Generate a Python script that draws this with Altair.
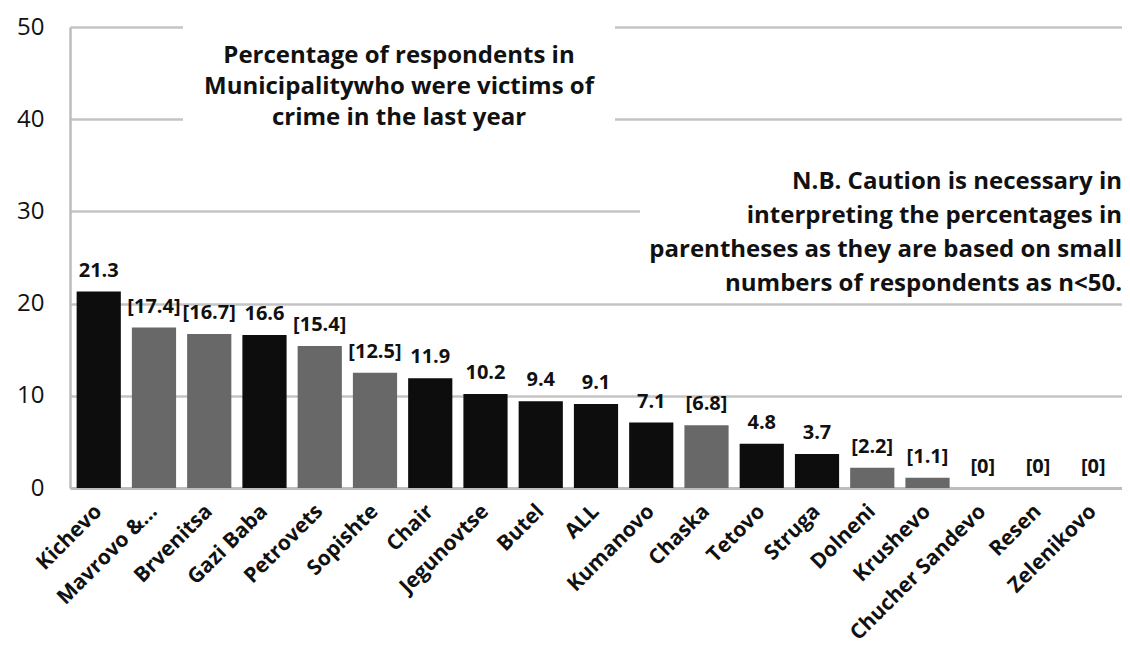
import altair as alt
import pandas as pd

municipalities = ["Kichevo", "Mavrovo &...", "Brvenitsa", "Gazi Baba", "Petrovets", "Sopishte",
                  "Chair", "Jegunovtse", "Butel", "ALL", "Kumanovo", "Chaska", "Tetovo", "Struga",
                  "Dolneni", "Krushevo", "Chucher Sandevo", "Resen", "Zelenikovo"]
values = [21.3, 17.4, 16.7, 16.6, 15.4, 12.5, 11.9, 10.2, 9.4, 9.1, 7.1, 6.8, 4.8, 3.7, 2.2, 1.1, 0, 0, 0]
small_sample = [False, True, True, False, True, True, False, False, False, False, False, True,
                False, False, True, True, True, True, True]
value_labels = ["21.3", "[17.4]", "[16.7]", "16.6", "[15.4]", "[12.5]", "11.9", "10.2", "9.4",
                "9.1", "7.1", "[6.8]", "4.8", "3.7", "[2.2]", "[1.1]", "[0]", "[0]", "[0]"]
y_ticks = [0, 10, 20, 30, 40, 50]
title_lines = ["Percentage of respondents in", "Municipalitywho were victims of", "crime in the last year"]
note_lines = ["N.B. Caution is necessary in", "interpreting the percentages in",
              "parentheses as they are based on small", "numbers of respondents as n<50."]

df = pd.DataFrame({
    "municipality": municipalities,
    "value": values,
    "group": ["small" if s else "normal" for s in small_sample],
    "label": value_labels,
})

FONT = "Open Sans"

x_enc = alt.X("municipality:N", sort=municipalities,
              scale=alt.Scale(paddingInner=0.2, paddingOuter=0.12),
              axis=alt.Axis(title=None, labelAngle=-45, labelAlign="right", labelBaseline="middle",
                            labelFont=FONT, labelFontWeight="bold", labelFontSize=21,
                            labelColor="#111111", labelPadding=20, ticks=False,
                            labelLimit=400, labelOverlap=False,
                            domainColor="#bdbdbd", domainWidth=3))
y_enc = alt.Y("value:Q", scale=alt.Scale(domain=[0, 50], nice=False),
              axis=alt.Axis(values=y_ticks, title=None, grid=True, gridColor="#c4c4c4",
                            gridWidth=2.5, ticks=False, domainColor="#bdbdbd", domainWidth=2.5,
                            labelFont=FONT, labelFontSize=24, labelColor="#111111",
                            labelPadding=26))

bars = alt.Chart(df).mark_bar().encode(
    x=x_enc, y=y_enc,
    color=alt.Color("group:N", scale=alt.Scale(domain=["normal", "small"],
                                               range=["#0d0d0d", "#686868"]), legend=None),
)

labels = alt.Chart(df).mark_text(dy=-21, baseline="middle", align="center", font=FONT,
                                 fontWeight="bold", fontSize=20, color="#111111").encode(
    x=alt.X("municipality:N", sort=municipalities), y="value:Q", text="label:N")

title_df = pd.DataFrame({"text": ["\n".join(title_lines)]})
note_df = pd.DataFrame({"text": ["\n".join(note_lines)]})

# plot area top-left is at page pixel (70, 27)
title_box = alt.Chart(title_df).mark_rect(color="white").encode(
    x=alt.value(113), x2=alt.value(545), y=alt.value(-17), y2=alt.value(119))
title_text = alt.Chart(title_df).mark_text(lineBreak="\n", lineHeight=31, align="center",
                                           baseline="middle", font=FONT, fontWeight="bold",
                                           fontSize=24, color="#111111").encode(
    x=alt.value(329), y=alt.value(29), text="text:N")

note_box = alt.Chart(note_df).mark_rect(color="white").encode(
    x=alt.value(570), x2=alt.value(1052), y=alt.value(133), y2=alt.value(267))
note_text = alt.Chart(note_df).mark_text(lineBreak="\n", lineHeight=34, align="right",
                                         baseline="middle", font=FONT, fontWeight="bold",
                                         fontSize=24, color="#111111").encode(
    x=alt.value(1052), y=alt.value(155), text="text:N")

chart = alt.layer(bars, labels, title_box, title_text, note_box, note_text).properties(
    width=1052, height=461,
    padding={"left": 62, "top": 19, "right": 0, "bottom": 157},
    autosize=alt.AutoSizeParams(type="none"),
    background="white",
).configure_view(stroke=None)

chart.save("out.html", embed_options={"renderer": "svg", "actions": False})
